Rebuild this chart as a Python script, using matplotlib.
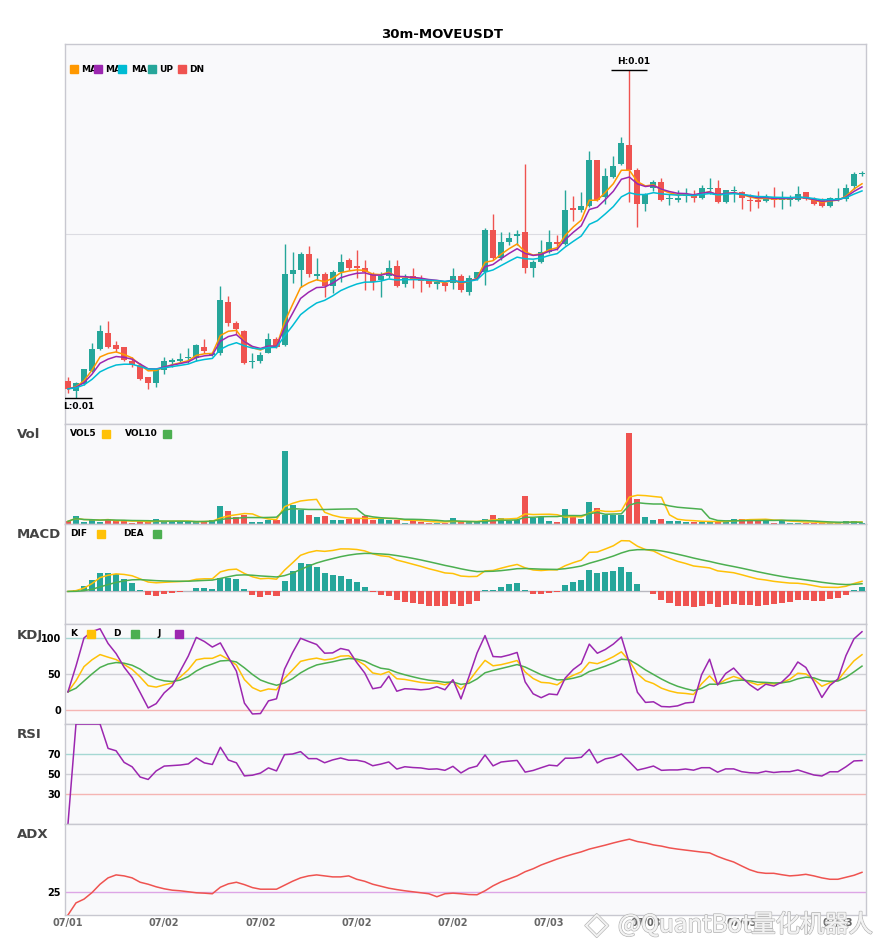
import numpy as np
import pandas as pd
import matplotlib
matplotlib.use('Agg')
import matplotlib.pyplot as plt
from matplotlib.patches import Rectangle
import matplotlib.patheffects as pe

plt.rcParams['font.family'] = ['DejaVu Sans']

# price in units of 1e-5 USDT
opens = [1017, 1007, 1014, 1027, 1049, 1065, 1053, 1051, 1037, 1033,
         1021, 1015, 1028, 1036, 1037, 1040, 1040, 1051, 1043, 1045,
         1096, 1075, 1067, 1036, 1037, 1045, 1059, 1053, 1124, 1128,
         1144, 1122, 1124, 1112, 1126, 1138, 1132, 1130, 1124, 1118,
         1122, 1132, 1114, 1122, 1119, 1117, 1114, 1115, 1115, 1122,
         1106, 1120, 1126, 1167, 1140, 1156, 1162, 1165, 1130, 1136,
         1146, 1156, 1154, 1189, 1187, 1191, 1237, 1200, 1220, 1233,
         1252, 1227, 1193, 1209, 1215, 1198, 1197, 1201, 1203, 1199,
         1208, 1209, 1195, 1206, 1205, 1197, 1197, 1196, 1200, 1197,
         1197, 1197, 1205, 1198, 1197, 1191, 1197, 1198, 1211, 1223]
highs = [1021, 1016, 1029, 1055, 1073, 1077, 1057, 1051, 1041, 1035,
         1021, 1029, 1041, 1040, 1045, 1050, 1054, 1059, 1046, 1112,
         1102, 1077, 1068, 1045, 1046, 1065, 1061, 1154, 1146, 1146,
         1152, 1140, 1126, 1128, 1144, 1140, 1148, 1138, 1126, 1126,
         1138, 1138, 1124, 1130, 1123, 1119, 1117, 1116, 1130, 1124,
         1123, 1126, 1169, 1183, 1165, 1165, 1167, 1233, 1138, 1158,
         1167, 1163, 1207, 1201, 1205, 1246, 1237, 1229, 1241, 1260,
         1327, 1229, 1204, 1217, 1219, 1203, 1207, 1209, 1207, 1212,
         1219, 1217, 1207, 1211, 1206, 1203, 1206, 1203, 1210, 1206,
         1202, 1211, 1205, 1200, 1199, 1200, 1209, 1213, 1225, 1226]
lows = [1005, 1000, 1013, 1026, 1048, 1050, 1046, 1037, 1031, 1018,
        1009, 1011, 1024, 1031, 1036, 1035, 1037, 1045, 1042, 1043,
        1072, 1064, 1034, 1030, 1035, 1045, 1050, 1052, 1115, 1111,
        1121, 1118, 1101, 1105, 1116, 1128, 1120, 1108, 1108, 1101,
        1120, 1111, 1111, 1110, 1106, 1111, 1109, 1107, 1109, 1106,
        1103, 1118, 1113, 1138, 1138, 1153, 1153, 1125, 1121, 1135,
        1145, 1148, 1153, 1176, 1185, 1190, 1196, 1193, 1219, 1232,
        1195, 1170, 1186, 1206, 1196, 1192, 1195, 1195, 1195, 1198,
        1203, 1194, 1194, 1195, 1188, 1186, 1189, 1195, 1190, 1188,
        1191, 1196, 1197, 1192, 1190, 1190, 1196, 1196, 1208, 1221]
closes = [1009, 1015, 1029, 1049, 1067, 1051, 1049, 1038, 1033, 1019,
          1015, 1028, 1037, 1038, 1039, 1041, 1053, 1047, 1045, 1098,
          1075, 1069, 1035, 1037, 1043, 1059, 1051, 1124, 1128, 1144,
          1124, 1124, 1112, 1126, 1136, 1130, 1130, 1126, 1116, 1122,
          1130, 1112, 1120, 1118, 1117, 1114, 1115, 1112, 1122, 1108,
          1120, 1126, 1167, 1140, 1156, 1160, 1163, 1130, 1136, 1146,
          1156, 1154, 1187, 1187, 1191, 1237, 1197, 1221, 1231, 1254,
          1227, 1193, 1203, 1215, 1197, 1199, 1199, 1203, 1199, 1209,
          1209, 1195, 1207, 1207, 1199, 1196, 1195, 1200, 1197, 1199,
          1199, 1203, 1198, 1193, 1191, 1199, 1199, 1209, 1223, 1224]
# volume in thousands
volumes = [8, 25, 7, 11, 7, 16, 8, 8, 4, 8,
           5, 16, 5, 8, 8, 8, 5, 8, 13, 55,
           40, 22, 26, 7, 7, 13, 13, 217, 58, 42,
           28, 22, 25, 13, 13, 16, 16, 25, 13, 16,
           13, 13, 4, 11, 7, 4, 4, 4, 19, 5,
           5, 5, 16, 28, 19, 8, 13, 82, 19, 22,
           10, 5, 46, 28, 16, 67, 49, 28, 26, 28,
           271, 76, 22, 13, 16, 10, 10, 7, 7, 7,
           7, 7, 10, 16, 16, 16, 10, 13, 4, 13,
           4, 4, 4, 4, 2, 4, 2, 10, 10, 4]
# ADX as drawn
adx_vals = [13.5, 19.6, 21.5, 24.8, 29.0, 32.2, 33.7, 33.2, 32.2, 30.0,
            29.0, 27.7, 26.7, 26.0, 25.7, 25.2, 24.7, 24.5, 24.2, 27.5,
            29.2, 30.0, 28.8, 27.3, 26.5, 26.5, 26.5, 28.5, 30.5, 32.2,
            33.2, 33.7, 33.2, 32.7, 32.7, 33.2, 31.5, 30.5, 29.0, 28.0,
            27.0, 26.3, 25.7, 25.2, 24.7, 24.2, 22.7, 24.2, 24.5, 24.2,
            23.8, 23.7, 25.7, 28.2, 30.2, 31.7, 33.2, 35.3, 36.8, 38.7,
            40.2, 41.7, 43.0, 44.2, 45.3, 46.7, 47.7, 48.7, 49.8, 50.8,
            51.7, 50.5, 49.8, 48.8, 48.2, 47.3, 46.7, 46.2, 45.7, 45.2,
            44.8, 43.0, 41.5, 40.2, 38.2, 36.3, 35.0, 34.5, 34.5, 33.8,
            33.2, 33.5, 34.0, 33.2, 32.2, 31.5, 31.5, 32.5, 33.5, 35.0]

symbol = 'MOVEUSDT'
interval = '30m'
start = '2025-07-01 18:00'

UP = '#26a69a'
DN = '#ef5350'

df = pd.DataFrame({'open': opens, 'high': highs, 'low': lows, 'close': closes})
df = df * 1e-5
df['volume'] = np.array(volumes) * 1000.0
df.index = pd.date_range(start, periods=len(df), freq='30min')
n = len(df)
x = np.arange(n)

# ---- indicators
c = df['close']
ma5 = c.ewm(span=5, adjust=False).mean()
ma7 = c.ewm(span=7, adjust=False).mean()
ma12 = c.ewm(span=12, adjust=False).mean()

vol5 = df['volume'].rolling(5, min_periods=1).mean()
vol10 = df['volume'].rolling(10, min_periods=1).mean()

dif = c.ewm(span=12, adjust=False).mean() - c.ewm(span=26, adjust=False).mean()
dea = dif.ewm(span=9, adjust=False).mean()
hist = 2 * (dif - dea)

low9 = df['low'].rolling(9, min_periods=1).min()
high9 = df['high'].rolling(9, min_periods=1).max()
rsv = ((c - low9) / (high9 - low9) * 100).fillna(50)
k = rsv.ewm(com=2, adjust=False).mean()
d = k.ewm(com=2, adjust=False).mean()
j = 3 * k - 2 * d

delta = c.diff().fillna(0)
gain = delta.clip(lower=0).ewm(alpha=1 / 14, adjust=False).mean()
loss = (-delta).clip(lower=0).ewm(alpha=1 / 14, adjust=False).mean()
rsi = (100 * gain / (gain + loss)).fillna(0)

adx = pd.Series(adx_vals, index=df.index)

# ---- figure
W, H = 885, 950
fig = plt.figure(figsize=(W / 100, H / 100), dpi=100)
gs = fig.add_gridspec(6, 1, height_ratios=[380, 100, 100, 100, 100, 91], hspace=0,
                      left=65 / W, right=866 / W, top=1 - 44 / H, bottom=1 - 915 / H)
axes = [fig.add_subplot(gs[i]) for i in range(6)]
for i in range(1, 6):
    axes[i].sharex(axes[0])
ax_p, ax_v, ax_m, ax_k, ax_r, ax_a = axes

for ax in axes:
    ax.set_facecolor('#f9f9fb')
    for s in ax.spines.values():
        s.set_color('#c8c8d0')
        s.set_linewidth(1)
    ax.tick_params(length=0, labelsize=7, pad=3)
    ax.tick_params(axis='x', labelbottom=False)
ax_p.set_xlim(-0.37, n - 0.5)

up = (df['close'] >= df['open']).values
colors = np.where(up, UP, DN)

# candles
o = df['open'].values
cl = df['close'].values
body_lo = np.minimum(o, cl)
body_h = np.maximum(np.abs(cl - o), 0.000012)
ax_p.vlines(x, df['low'], df['high'], colors=colors, linewidth=1, zorder=2)
ax_p.bar(x, body_h, bottom=body_lo, width=0.75, color=colors, zorder=3)
ax_p.plot(x, ma5, color='#ff9800', lw=1.1, zorder=4)
ax_p.plot(x, ma7, color='#9c27b0', lw=1.1, zorder=4)
ax_p.plot(x, ma12, color='#00bcd4', lw=1.1, zorder=4)
lo, hi = df['low'].min(), df['high'].max()
rng = hi - lo
ax_p.set_ylim(lo - 0.08 * rng, hi + 0.08 * rng)
ax_p.set_yticks([(lo + hi) / 2])
ax_p.set_yticklabels([])
ax_p.grid(axis='y', color='#dcdce2', lw=0.8)
ax_p.set_axisbelow(True)

ih = int(df['high'].values.argmax())
il = int(df['low'].values.argmin())
ax_p.hlines(hi, ih - 2.25, ih + 2.25, color='black', lw=1, zorder=5)
ax_p.text(ih + 0.5, hi + 0.012 * rng, 'H:%.2f' % hi, ha='center', va='bottom',
          fontsize=6.5, fontweight='bold', zorder=5)
ax_p.hlines(lo, il - 2.5, il + 2.0, color='black', lw=1, zorder=5)
ax_p.text(il + 0.4, lo - 0.012 * rng, 'L:%.2f' % lo, ha='center', va='top',
          fontsize=6.5, fontweight='bold', zorder=5)

# volume
ax_v.bar(x, df['volume'], width=0.75, color=colors, zorder=2)
ax_v.plot(x, vol5, color='#ffc107', lw=1.1, zorder=3)
ax_v.plot(x, vol10, color='#4caf50', lw=1.1, zorder=3)
ax_v.set_ylim(0, df['volume'].max() * 1.1)
ax_v.set_yticks([])

# macd
ax_m.bar(x, hist, width=0.75, color=np.where(hist >= 0, UP, DN), zorder=2)
ax_m.plot(x, dif, color='#ffc107', lw=1.1, zorder=3)
ax_m.plot(x, dea, color='#4caf50', lw=1.1, zorder=3)
ax_m.axhline(0, color='#b8b8c0', lw=1, zorder=1)
mlo = min(dif.min(), dea.min(), hist.min())
mhi = max(dif.max(), dea.max(), hist.max())
ax_m.set_ylim(mlo - 0.25 * (mhi - mlo), mhi + 0.25 * (mhi - mlo))
ax_m.set_yticks([])

# kdj
ax_k.axhline(100, color='#a5d8d3', lw=1, zorder=1)
ax_k.axhline(50, color='#d0d0d6', lw=1, zorder=1)
ax_k.axhline(0, color='#f5b5b3', lw=1, zorder=1)
ax_k.plot(x, k, color='#ffc107', lw=1.1, zorder=3)
ax_k.plot(x, d, color='#4caf50', lw=1.1, zorder=3)
ax_k.plot(x, j, color='#9c27b0', lw=1.1, zorder=3)
ax_k.set_ylim(-20, 120)
ax_k.set_yticks([0, 50, 100])

# rsi
ax_r.axhline(70, color='#a5d8d3', lw=1, zorder=1)
ax_r.axhline(50, color='#d0d0d6', lw=1, zorder=1)
ax_r.axhline(30, color='#f5b5b3', lw=1, zorder=1)
ax_r.plot(x, rsi, color='#9c27b0', lw=1.1, zorder=3)
ax_r.set_ylim(0, 100)
ax_r.set_yticks([30, 50, 70])

# adx
ax_a.axhline(25, color='#dda6e6', lw=1, zorder=1)
ax_a.plot(x, adx, color='#ef5350', lw=1.1, zorder=3)
alo, ahi = adx.min(), adx.max()
ax_a.set_ylim(alo, ahi + 0.2 * (ahi - alo))
ax_a.set_yticks([25])

for ax in (ax_k, ax_r, ax_a):
    for lab in ax.get_yticklabels():
        lab.set_fontweight('bold')
        lab.set_fontsize(7)

ticks = x[::12]
ax_a.set_xticks(ticks)
ax_a.set_xticklabels([t.strftime('%m/%d') for t in df.index[::12]])
ax_a.tick_params(axis='x', labelbottom=True, colors='#666666', labelsize=7, pad=2)
for lab in ax_a.get_xticklabels():
    lab.set_fontweight('bold')


# ---- legends and labels in pixel positions
def fx(px):
    return px / W


def fy(py):
    return 1 - py / H


def square(px, py, color):
    fig.add_artist(Rectangle((fx(px), fy(py + 4)), 8 / W, 8 / H, transform=fig.transFigure,
                             color=color, zorder=6))


def label(px, py, s, size=6.5):
    fig.text(fx(px), fy(py), s, fontsize=size, fontweight='bold', ha='left', va='center', zorder=5)


fig.text(0.5, fy(34), '%s-%s' % (interval, symbol), ha='center', va='center',
         fontsize=9.5, fontweight='bold')

main_items = [('MA', '#ff9800', 70, 81), ('MA', '#9c27b0', 94, 105), ('MA', '#00bcd4', 118, 131),
              ('UP', UP, 148, 159), ('DN', DN, 178, 189)]
for s, col, sx, tx in main_items:
    label(tx, 69, s)
    square(sx, 69, col)

label(70, 434, 'VOL5')
square(102, 434, '#ffc107')
label(125, 434, 'VOL10')
square(163, 434, '#4caf50')

label(70, 534, 'DIF')
square(97, 534, '#ffc107')
label(123, 534, 'DEA')
square(153, 534, '#4caf50')

label(70, 634, 'K')
square(87, 634, '#ffc107')
label(113, 634, 'D')
square(131, 634, '#4caf50')
label(157, 634, 'J')
square(175, 634, '#9c27b0')

for s, py in [('Vol', 435), ('MACD', 535), ('KDJ', 635), ('RSI', 735), ('ADX', 835)]:
    fig.text(fx(17), fy(py), s, fontsize=9.5, fontweight='bold', color='#444444',
             ha='left', va='center')

# watermark
stroke = [pe.withStroke(linewidth=1.2, foreground='#b8b8b8'), pe.Normal()]
logo = fig.text(fx(585), fy(925), '\u25c7', fontsize=22, color='#f2f2f2',
                ha='left', va='center', zorder=10)
logo.set_path_effects(stroke)
wm = fig.text(fx(618), fy(925), '@QuantBot量化机器人', fontsize=17.5, color='#f2f2f2',
              family=['Noto Sans CJK SC', 'DejaVu Sans'], ha='left', va='center', zorder=10)
wm.set_path_effects(stroke)

fig.savefig('out.png', dpi=100)
